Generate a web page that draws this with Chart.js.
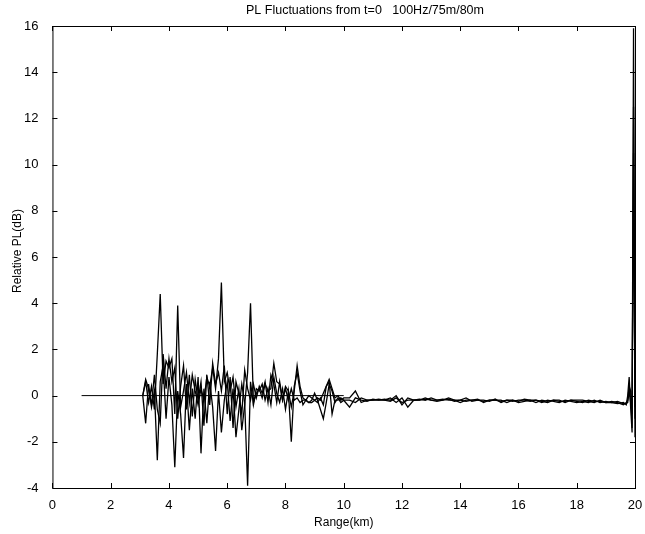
<!DOCTYPE html>
<html><head><meta charset="utf-8">
<script src="https://cdn.jsdelivr.net/npm/chart.js@4"></script>
<style>html,body{margin:0;padding:0;background:#fff}#wrap{width:645px;height:534px}</style>
</head><body><div id="wrap"><canvas id="c" width="645" height="534"></canvas></div>
<script>
const titleText = "PL Fluctuations from t=0   100Hz/75m/80m";
const xTitle = "Range(km)";
const yTitle = "Relative PL(dB)";
const xTicks = [0,2,4,6,8,10,12,14,16,18,20];
const yTicks = [-4,-2,0,2,4,6,8,10,12,14,16];

const refX = [1.0, 3.1, 10.0];
const refY = [0, 0, 0];

const rangeKm = [
3.1,3.2,3.3,3.4,3.5,3.6,3.7,3.8,3.9,4.0,
4.1,4.2,4.3,4.4,4.5,4.6,4.7,4.8,4.9,5.0,
5.1,5.2,5.3,5.4,5.5,5.6,5.7,5.8,5.9,6.0,
6.1,6.2,6.3,6.4,6.5,6.6,6.7,6.8,6.9,7.0,
7.1,7.2,7.3,7.4,7.5,7.6,7.7,7.8,7.9,8.0,
8.1,8.2,8.3,8.4,8.5,8.6,8.7,8.8,8.9,9.0,
9.1,9.2,9.3,9.4,9.5,9.6,9.7,9.8,9.9,10.0,
10.2,10.4,10.6,10.8,11.0,11.2,11.4,11.6,11.8,12.0,
12.2,12.4,12.6,12.8,13.0,13.2,13.4,13.6,13.8,14.0,
14.2,14.4,14.6,14.8,15.0,15.2,15.4,15.6,15.8,16.0,
16.2,16.4,16.6,16.8,17.0,17.2,17.4,17.6,17.8,18.0,
18.2,18.4,18.6,18.8,19.0,19.2,19.4,19.6,
19.7,19.75,19.8,19.85,19.9,19.95,20.0
];

const plA = [
0,0.6,-0.3,0.4,-0.6,1.8,4.4,0.5,1.5,1.2,
1.6,-0.8,3.9,-0.5,0.2,1.0,-0.3,0.9,0.2,-0.4,
0.3,-0.2,0.8,0.4,1.2,0.3,1.6,4.9,0.6,1.0,
0.2,0.8,-0.5,0.3,-1.5,-0.4,1.0,4.0,-0.3,0.1,
0.3,-0.1,0.5,0.2,0.3,1.4,0.6,0.5,-0.2,0.4,
0.2,-0.5,0.2,1.3,0.4,-0.1,-0.2,0.0,-0.1,-0.2,
-0.1,-0.2,0.1,0.4,0.7,0.3,-0.1,0.0,-0.2,-0.1,
-0.1,0.2,-0.3,-0.2,-0.2,-0.2,-0.15,-0.2,0.0,-0.4,
-0.1,-0.2,-0.15,-0.2,-0.1,-0.2,-0.2,-0.15,-0.25,-0.2,
-0.1,-0.25,-0.2,-0.2,-0.25,-0.15,-0.3,-0.2,-0.25,-0.2,
-0.2,-0.25,-0.2,-0.3,-0.2,-0.25,-0.3,-0.2,-0.25,-0.3,
-0.25,-0.3,-0.2,-0.3,-0.25,-0.3,-0.35,-0.3,
-0.4,0.0,0.8,-0.5,-1.6,15.9,-1.8
];

const plB = [
0,-1.2,0.5,-0.5,0.2,-2.8,0.6,1.3,-1.0,0.8,
-0.4,-3.1,0.2,-0.8,-2.7,0.5,-1.5,0.3,-1.0,0.8,
-2.5,0.3,-1.2,0.6,-0.5,-2.4,0.2,-1.6,-0.2,0.6,
-1.1,0.3,-1.8,-0.6,0.5,-0.3,-3.9,0.6,-0.4,0.3,
0.2,0.5,-0.2,0.3,-0.4,0.8,0.1,-0.3,0.3,-0.6,
0.2,-2.0,0.4,1.0,0.2,-0.4,-0.2,-0.3,-0.2,0.1,
-0.2,-0.6,-1.0,-0.3,0.5,0.2,-0.3,-0.1,-0.3,-0.2,
-0.5,-0.1,-0.2,-0.25,-0.15,-0.2,-0.2,-0.1,-0.3,-0.1,
-0.5,-0.2,-0.2,-0.1,-0.2,-0.25,-0.2,-0.1,-0.2,-0.3,
-0.2,-0.2,-0.15,-0.3,-0.2,-0.2,-0.2,-0.3,-0.2,-0.25,
-0.15,-0.2,-0.3,-0.2,-0.25,-0.2,-0.2,-0.3,-0.2,-0.25,
-0.3,-0.2,-0.25,-0.25,-0.3,-0.25,-0.3,-0.4,
-0.3,-0.2,0.4,0.2,-1.4,12.5,-1.0
];

const plC = [
0,0.7,0.3,-0.4,0.9,-0.6,-1.2,1.8,0.3,1.6,
0.6,1.2,-1.0,0.4,1.3,-0.6,0.9,-0.9,0.7,-0.2,
0.6,-1.3,0.9,-0.4,1.4,0.5,1.0,0.2,1.3,-0.8,
0.8,-1.4,0.6,0.1,-0.8,1.1,0.3,-0.2,0.5,-0.1,
0.4,0.1,0.6,-0.3,0.9,0.5,-0.3,0.6,-0.2,0.3,
-0.2,0.3,-0.2,-0.1,-0.3,-0.2,-0.2,-0.3,-0.3,-0.2,
-0.3,-0.1,-0.4,0.4,0.6,-0.8,-0.2,-0.2,-0.1,-0.2,
-0.2,-0.3,-0.1,-0.2,-0.2,-0.15,-0.2,-0.25,-0.1,-0.3,
-0.2,-0.2,-0.2,-0.15,-0.2,-0.2,-0.15,-0.2,-0.2,-0.2,
-0.25,-0.2,-0.2,-0.25,-0.2,-0.2,-0.25,-0.2,-0.2,-0.3,
-0.25,-0.2,-0.2,-0.25,-0.3,-0.2,-0.25,-0.25,-0.2,-0.2,
-0.2,-0.25,-0.3,-0.2,-0.3,-0.3,-0.25,-0.35,
-0.35,-0.3,0.2,-0.3,-0.8,10.5,-0.5
];

function pts(xs, ys){ return xs.map((x,i)=>({x:x, y:ys[i]})); }

const boxTicks = {
  id:'boxTicks',
  afterDraw(chart){
    const {ctx, chartArea:a, scales:{x, y}} = chart;
    ctx.save();
    ctx.strokeStyle = '#000';
    ctx.lineWidth = 1;
    ctx.strokeRect(a.left+0.5, a.top+0.5, a.right-a.left, a.bottom-a.top);
    const L = 5;
    ctx.beginPath();
    xTicks.forEach(v=>{
      const px = Math.round(x.getPixelForValue(v))+0.5;
      ctx.moveTo(px, a.bottom); ctx.lineTo(px, a.bottom-L);
      ctx.moveTo(px, a.top); ctx.lineTo(px, a.top+L);
    });
    yTicks.forEach(v=>{
      const py = Math.round(y.getPixelForValue(v))+0.5;
      ctx.moveTo(a.left, py); ctx.lineTo(a.left+L, py);
      ctx.moveTo(a.right, py); ctx.lineTo(a.right-L, py);
    });
    ctx.stroke();
    ctx.fillStyle = '#000';
    // title
    ctx.font = '12.5px "Liberation Sans"';
    ctx.textAlign = 'center';
    ctx.textBaseline = 'middle';
    ctx.fillText(titleText, 365, 11);
    // y-axis title
    ctx.font = '12px "Liberation Sans"';
    ctx.translate(18, (a.top + a.bottom)/2 - 6);
    ctx.rotate(-Math.PI/2);
    ctx.fillText(yTitle, 0, 0);
    ctx.restore();
  }
};

const lineStyle = {showLine:true, pointRadius:0, borderColor:'#000', borderWidth:1.3, tension:0, fill:false};

new Chart(document.getElementById('c'), {
  type:'scatter',
  data:{datasets:[
    Object.assign({label:'ref', data:pts(refX, refY)}, lineStyle, {borderWidth:1}),
    Object.assign({label:'A', data:pts(rangeKm, plA)}, lineStyle),
    Object.assign({label:'B', data:pts(rangeKm, plB)}, lineStyle),
    Object.assign({label:'C', data:pts(rangeKm, plC)}, lineStyle)
  ]},
  options:{
    responsive:false, animation:false,
    layout:{padding:{left:18, right:10, top:26, bottom:4}},
    plugins:{
      legend:{display:false}, tooltip:{enabled:false},
      title:{display:false}
    },
    scales:{
      x:{type:'linear', min:0, max:20,
        afterBuildTicks(s){ s.ticks = xTicks.map(v=>({value:v})); },
        grid:{display:false}, border:{display:false},
        ticks:{color:'#000', font:{family:'Liberation Sans', size:13}, padding:2, maxRotation:0},
        title:{display:true, text:xTitle, color:'#000', font:{family:'Liberation Sans', size:12}, padding:{top:0, bottom:0}}
      },
      y:{type:'linear', min:-4, max:16,
        afterBuildTicks(s){ s.ticks = yTicks.map(v=>({value:v})); },
        grid:{display:false}, border:{display:false},
        ticks:{color:'#000', font:{family:'Liberation Sans', size:13}, padding:6},
        title:{display:false}
      }
    }
  },
  plugins:[boxTicks]
});
</script>
</body></html>
